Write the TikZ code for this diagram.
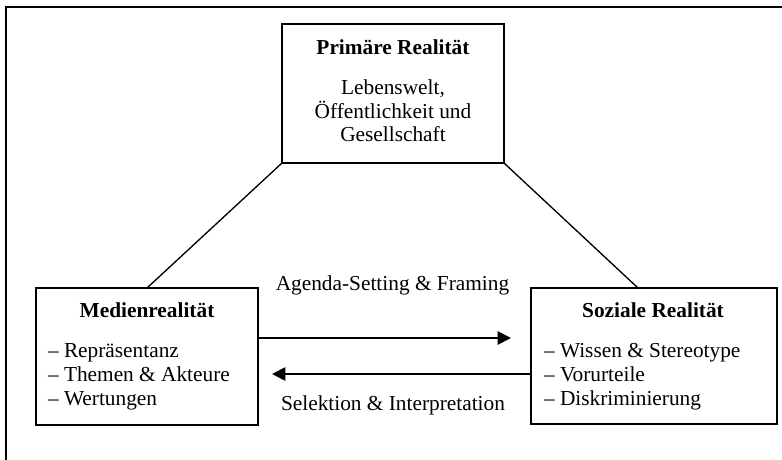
\documentclass[tikz,border=0pt]{standalone}
\usepackage{fontspec}
\setmainfont{Liberation Serif}
\usetikzlibrary{arrows.meta}
\begin{document}
\begin{tikzpicture}[x=0.75pt,y=-0.75pt,
  box/.style={draw, line width=1.5pt, inner sep=0pt, outer sep=0pt},
  txt/.style={inner sep=0pt, outer sep=0pt, font=\fontsize{16pt}{18pt}\selectfont},
  ttl/.style={txt, font=\fontsize{16pt}{18pt}\selectfont\bfseries},
  conn/.style={line width=1pt},
  flow/.style={line width=1.4pt, -{Triangle[length=10pt,width=10pt]}}]
\useasboundingbox (0,0) rectangle (782,460);
% outer frame (cut at right and bottom)
\coordinate (fbl) at (6,470);
\coordinate (ftl) at (6,7);
\coordinate (ftr) at (790,7);
\draw[line width=1pt] (fbl) -- (ftl) -- (ftr);
% boxes
\node[box, minimum width=166.5pt, minimum height=104.25pt] (pr) at (393,93.5) {};
\node[box, minimum width=166.5pt, minimum height=102.75pt] (mr) at (147,356.5) {};
\node[box, minimum width=184.5pt, minimum height=102pt] (sr) at (654,356) {};
% texts of top box
\node[ttl, anchor=base] (prt) at (393,55) {Primäre Realität};
\node[txt, anchor=base] (pr1) at (393,94) {Lebenswelt,};
\node[txt, anchor=base] (pr2) at (393,118) {Öffentlichkeit und};
\node[txt, anchor=base] (pr3) at (393,142) {Gesellschaft};
% texts of Medienrealität
\node[ttl, anchor=base] (mrt) at (147,317) {Medienrealität};
\node[txt, anchor=base west] (mr1) at (48,357) {– Repräsentanz};
\node[txt, anchor=base west] (mr2) at (48,381) {– Themen \& Akteure};
\node[txt, anchor=base west] (mr3) at (48,405) {– Wertungen};
% texts of Soziale Realität
\node[ttl, anchor=base] (srt) at (653,317) {Soziale Realität};
\node[txt, anchor=base west] (sr1) at (544,357) {– Wissen \& Stereotype};
\node[txt, anchor=base west] (sr2) at (544,381) {– Vorurteile};
\node[txt, anchor=base west] (sr3) at (544,405) {– Diskriminierung};
% labels
\node[txt, anchor=base] (lab1) at (392.5,290) {Agenda-Setting \& Framing};
\node[txt, anchor=base] (lab2) at (393,410) {Selektion \& Interpretation};
% connectors
\coordinate (stop) at (638,288);
\draw[conn] (pr.south west) -- (mr.north);
\draw[conn] (pr.south east) -- (sr.north -| stop);
\coordinate (a1end) at (511,338);
\coordinate (a2end) at (272,374);
\draw[flow] (mr.east |- a1end) -- (a1end);
\draw[flow] (sr.west |- a2end) -- (a2end);
\end{tikzpicture}
\end{document}
